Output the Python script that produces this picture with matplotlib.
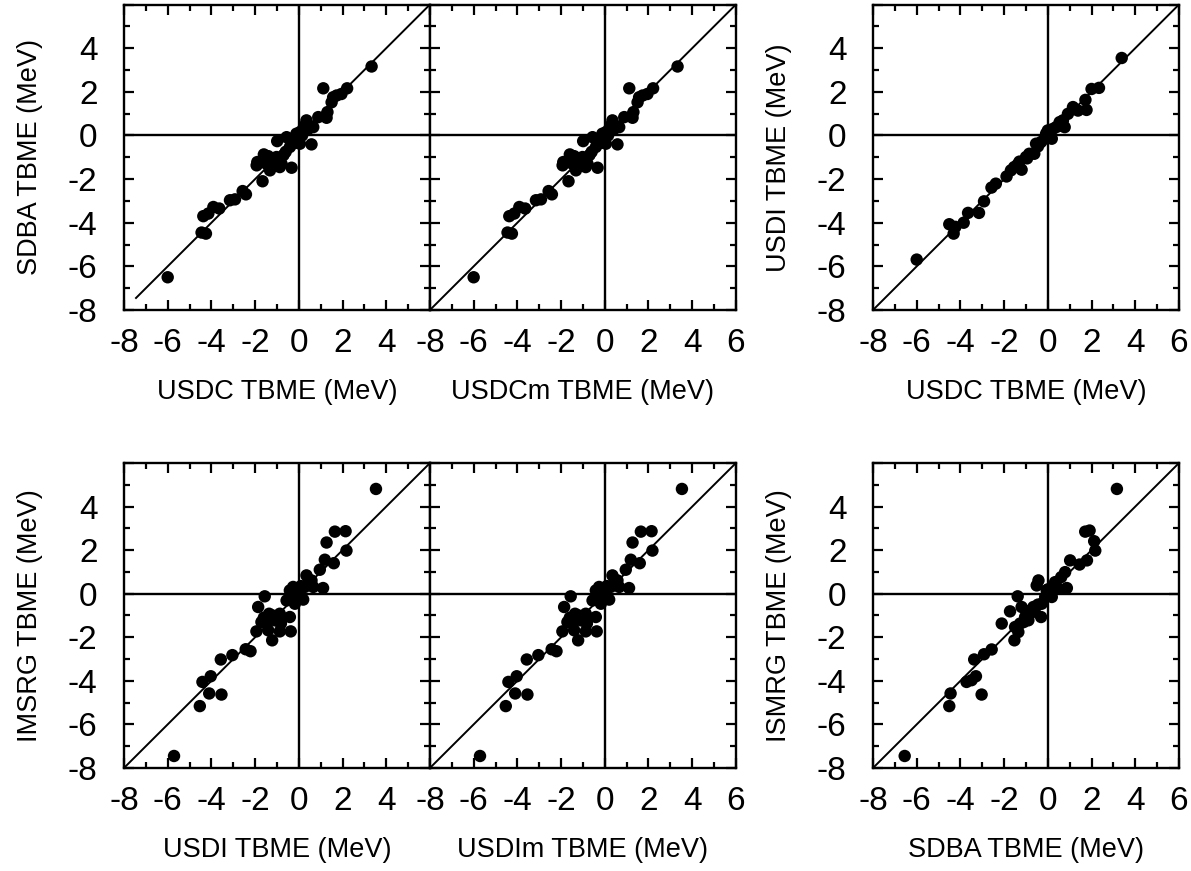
import matplotlib
matplotlib.use("Agg")
import matplotlib.pyplot as plt
from matplotlib.ticker import MultipleLocator

plt.rcParams['font.family'] = ['Liberation Sans', 'DejaVu Sans']
plt.rcParams['axes.unicode_minus'] = False

# USDC (x) vs SDBA (y); the USDCm panel shows the same points
usdc_x = [-6.0, -4.45, -4.25, -4.37, -4.14, -3.91, -3.64, -3.15, -2.92, -2.57, -2.42,
          -1.66, -1.93, -1.9, -1.6, -1.48, -1.32, -1.17, -1.02, -0.94, -0.79, -0.87,
          -0.99, -0.33, -0.56, -0.41, -0.26, -0.11, 0.05, 0.05, 0.28, 0.43, 0.35, 0.66,
          0.58, 0.89, 1.27, 1.31, 1.12, 1.5, 1.57, 1.73, 1.95, 2.21, 3.33,
          -1.25, -1.1, -0.7, -0.6, -0.2, 0.15, 0.2, -1.75, -1.4]
sdba_y = [-6.5, -4.45, -4.5, -3.7, -3.58, -3.28, -3.35, -2.97, -2.93, -2.55, -2.7,
          -2.1, -1.37, -1.22, -0.87, -1.3, -1.6, -1.37, -0.99, -1.14, -1.3, -1.45,
          -0.26, -1.48, -0.08, -0.53, -0.23, 0.08, 0.15, -0.38, 0.46, 0.3, 0.69, 0.38,
          -0.41, 0.84, 0.81, 1.07, 2.16, 1.52, 1.75, 1.83, 1.9, 2.16, 3.16,
          -1.05, -1.2, -0.9, -0.75, -0.35, 0.0, 0.3, -1.2, -0.95]

# USDC (x) vs USDI (y)
usdc2_x = [-6.0, -4.51, -4.31, -4.23, -3.85, -3.65, -3.15, -2.92, -2.58, -2.38, -1.89,
           -1.69, -1.54, -1.38, -1.2, -1.0, -0.85, -0.62, -0.54, -0.31, -0.15, -0.08,
           0.0, 0.18, 0.23, 0.38, 0.54, 0.69, 0.77, 0.92, 1.15, 1.38, 1.77, 1.72, 2.0,
           2.34, 3.38, -1.3, -0.95, -0.45, 0.1, 0.6]
usdi_y = [-5.69, -4.07, -4.5, -4.19, -4.0, -3.55, -3.55, -3.02, -2.39, -2.21, -1.88,
          -1.6, -1.45, -1.33, -1.57, -0.99, -0.84, -0.84, -0.38, -0.3, -0.15, 0.08,
          0.23, -0.15, 0.3, 0.38, 0.61, 0.69, 0.38, 0.99, 1.3, 1.14, 1.17, 1.63, 2.13,
          2.18, 3.55, -1.2, -1.05, -0.5, 0.0, 0.45]

# USDI (x) vs IMSRG (y); the USDIm panel shows the same points
usdi_x = [-5.71, -4.53, -4.41, -4.1, -4.03, -3.54, -3.57, -3.04, -2.43, -2.21, -1.94,
          -1.86, -1.56, -1.71, -1.48, -1.4, -1.22, -1.36, -1.1, -0.87, -0.87, -0.82,
          -0.41, -0.37, -0.56, -0.41, -0.26, -0.26, -0.18, -0.03, 0.2, 0.27, 0.35,
          0.43, 0.58, 0.66, 0.96, 1.11, 1.19, 1.27, 1.6, 1.65, 2.14, 2.18, 3.53,
          -1.6, -1.2, -0.95, -0.1, 0.1, 0.5, -0.15]
imsrg_y = [-7.45, -5.16, -4.05, -4.58, -3.79, -4.63, -3.02, -2.82, -2.55, -2.64, -1.73,
           -0.61, -0.12, -1.3, -1.37, -1.68, -2.14, -0.92, -1.22, -0.92, -1.73, -1.37,
           -1.07, -1.73, -0.31, 0.15, 0.31, -0.15, -0.46, 0.08, -0.27, 0.31, 0.84,
           0.46, 0.61, 0.31, 1.1, 0.26, 1.56, 2.35, 1.4, 2.85, 2.87, 1.98, 4.81,
           -1.1, -1.0, -1.25, -0.2, 0.35, 0.55, 0.0]

# SDBA (x) vs ISMRG (y)
sdba_x = [-6.55, -4.51, -4.45, -3.72, -3.49, -3.29, -3.03, -3.37, -2.92, -2.57, -2.11,
          -1.73, -1.53, -1.38, -1.5, -1.35, -1.27, -1.2, -1.04, -0.89, -0.81, -0.66,
          -0.51, -0.43, -0.31, -0.28, -0.12, -0.05, 0.1, 0.18, 0.26, 0.33, 0.49, 0.61,
          0.79, 0.87, 1.02, 1.45, 1.79, 1.71, 1.91, 2.12, 2.17, 3.16,
          -1.1, -0.95, -0.6, 0.0, 0.4, -0.45]
ismrg_y = [-7.45, -5.16, -4.58, -4.05, -3.97, -3.79, -4.63, -3.02, -2.78, -2.56, -1.37,
           -0.81, -2.14, -0.12, -1.53, -1.76, -1.37, -0.61, -1.07, -1.22, -0.92, -0.61,
           0.38, 0.61, -1.07, -0.46, -0.15, 0.15, 0.0, -0.15, 0.31, 0.53, 0.23, 0.76,
           0.99, 0.26, 1.53, 1.34, 1.53, 2.85, 2.9, 2.41, 1.98, 4.81,
           -1.3, -0.8, -0.7, 0.2, 0.3, -0.5]

panels = [
    # rect, x, y, xlabel, ylabel, diagonal start, show x tick at 6, show y labels
    ([0.1041, 0.6441, 0.2569, 0.3507], usdc_x, sdba_y, 'USDC TBME (MeV)', 'SDBA TBME (MeV)', -7.45, False, True),
    ([0.3610, 0.6441, 0.2569, 0.3507], usdc_x, sdba_y, 'USDCm TBME (MeV)', None, -8, True, False),
    ([0.7330, 0.6441, 0.2569, 0.3507], usdc2_x, usdi_y, 'USDC TBME (MeV)', 'USDI TBME (MeV)', -8, True, True),
    ([0.1041, 0.1183, 0.2569, 0.3501], usdi_x, imsrg_y, 'USDI TBME (MeV)', 'IMSRG TBME (MeV)', -8, False, True),
    ([0.3610, 0.1183, 0.2569, 0.3501], usdi_x, imsrg_y, 'USDIm TBME (MeV)', None, -8, True, False),
    ([0.7330, 0.1183, 0.2569, 0.3501], sdba_x, ismrg_y, 'SDBA TBME (MeV)', 'ISMRG TBME (MeV)', -8, True, True),
]

fig = plt.figure(figsize=(11.91, 8.71), dpi=100)

for rect, xs, ys, xl, yl, d0, show6, showy in panels:
    ax = fig.add_axes(rect)
    ax.set_xlim(-8, 6)
    ax.set_ylim(-8, 6)
    ax.axhline(0, color='black', lw=1.7, zorder=1)
    ax.axvline(0, color='black', lw=1.7, zorder=1)
    ax.plot([d0, 6], [d0, 6], color='black', lw=1.4, zorder=2)
    ax.scatter(xs, ys, s=80, color='black', edgecolors='none', zorder=3)

    ax.xaxis.set_minor_locator(MultipleLocator(1))
    ax.yaxis.set_minor_locator(MultipleLocator(1))
    ticks = list(range(-8, 7, 2))
    ax.set_xticks(ticks)
    ax.set_xticklabels([str(t) if (t != 6 or show6) else '' for t in ticks])
    ax.set_yticks(ticks)
    if showy:
        ax.set_yticklabels([str(t) if t != 6 else '' for t in ticks])
    else:
        ax.set_yticklabels([])
    ax.tick_params(which='both', direction='in', top=True, right=True, width=1.6)
    ax.tick_params(which='major', length=7.5)
    ax.tick_params(which='minor', length=4)
    ax.tick_params(axis='x', labelsize=24, pad=13)
    ax.tick_params(axis='y', labelsize=24, pad=19)
    for sp in ax.spines.values():
        sp.set_linewidth(1.7)

    ax.set_xlabel(xl, fontsize=19.5)
    ax.xaxis.set_label_coords(0.5, -0.225)
    if yl:
        ax.set_ylabel(yl, fontsize=19.5)
        ax.yaxis.set_label_coords(-0.265, 0.5)

fig.savefig('out.png', dpi=100)
